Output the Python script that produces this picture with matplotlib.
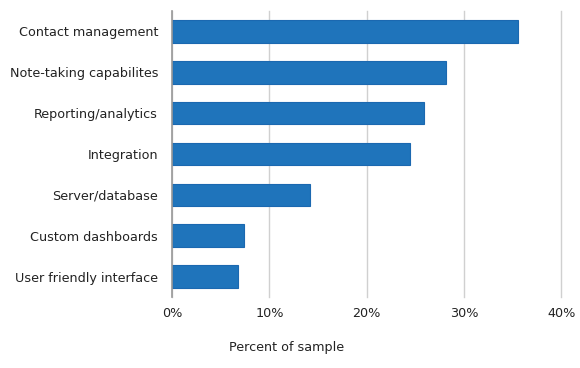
import matplotlib
matplotlib.use("Agg")
import matplotlib.pyplot as plt

categories = ["Contact management", "Note-taking capabilites", "Reporting/analytics",
              "Integration", "Server/database", "Custom dashboards", "User friendly interface"]
values = [35.6, 28.2, 25.9, 24.5, 14.2, 7.4, 6.8]
xticks = [0, 10, 20, 30, 40]
xticklabels = ["0%", "10%", "20%", "30%", "40%"]

plt.rcParams['font.family'] = ['DejaVu Sans']
fig = plt.figure(figsize=(5.8, 3.68), dpi=100)
ax = fig.add_axes([172/580, 1-297/368, (561.3-172)/580, (297-11)/368])

y = list(range(len(categories)))
ax.barh(y, values, height=0.55, color="#1f74bb", edgecolor="#1b68b0", linewidth=0.8, zorder=3)
ax.set_ylim(len(categories)-0.5, -0.5)
ax.set_xlim(0, 40)
ax.set_yticks(y)
ax.set_yticklabels(categories, fontsize=9.2, color="#222222")
ax.set_xticks(xticks)
ax.set_xticklabels(xticklabels, fontsize=9.2, color="#222222")
ax.tick_params(axis='both', length=0)
ax.tick_params(axis='y', pad=10)
ax.tick_params(axis='x', pad=7)
for s in ["top", "right", "bottom"]:
    ax.spines[s].set_visible(False)
ax.spines["left"].set_color("#999999")
ax.spines["left"].set_linewidth(1.2)
ax.spines["left"].set_zorder(4)
ax.grid(axis='x', color="#d0d0d0", linewidth=1.0, zorder=0)
for gl in ax.get_xgridlines():
    gl.set_clip_on(False)
ax.set_axisbelow(True)
fig.text(287/580, 1-348/368, "Percent of sample", ha="center", va="center", fontsize=9.2, color="#222222")
fig.savefig("out.png", dpi=100, facecolor="white")
